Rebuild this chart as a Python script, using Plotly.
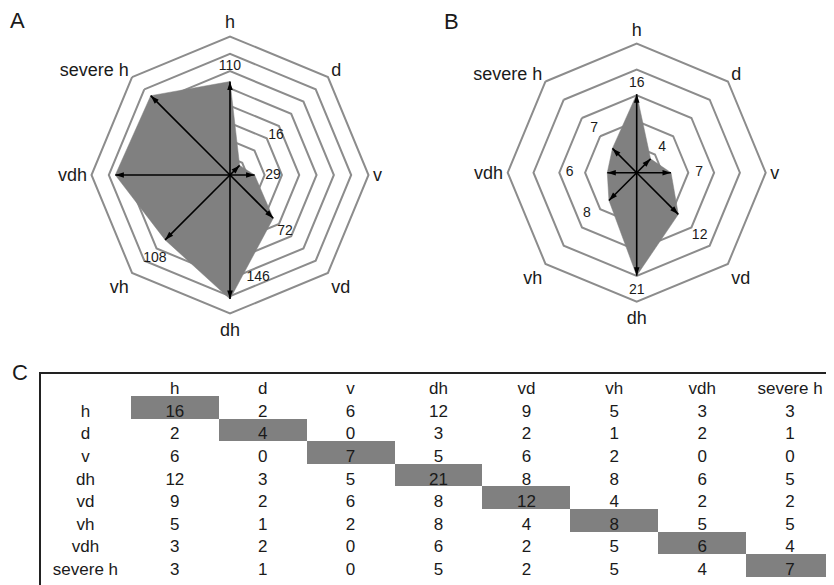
import plotly.graph_objects as go

# ---------------- data ----------------
CATS = ["h", "d", "v", "vd", "dh", "vh", "vdh", "severe h"]   # clockwise from top
A_VALUES = [110, 16, 29, 72, 146, 108, 135, 132]
B_VALUES = [16, 4, 7, 12, 21, 8, 6, 7]

TABLE_LABELS = ["h", "d", "v", "dh", "vd", "vh", "vdh", "severe h"]
TABLE_ROWS = [
    [16, 2, 6, 12, 9, 5, 3, 3],
    [2, 4, 0, 3, 2, 1, 2, 1],
    [6, 0, 7, 5, 6, 2, 0, 0],
    [12, 3, 5, 21, 8, 8, 6, 5],
    [9, 2, 6, 8, 12, 4, 2, 2],
    [5, 1, 2, 8, 4, 8, 5, 5],
    [3, 2, 0, 6, 2, 5, 6, 4],
    [3, 1, 0, 5, 2, 5, 4, 7],
]

# ---------------- style ----------------
PAGE_W, PAGE_H = 834, 585
OFF = 8                      # default body margin of the html page
W, H = PAGE_W - OFF, PAGE_H - OFF
A_RMAX, A_RINGS = 163.0, 8
B_RMAX, B_RINGS = 26.3, 5
GRID = "#8c8c8c"
FILL = "#808080"
TXT = "#1a1a1a"
FONT = "Liberation Sans, Arial, Helvetica, sans-serif"
TFONT = "Liberation Sans, Arial, sans-serif"

# value-label placement: (fraction of outer radius, angle in degrees clockwise from top)
A_LABEL_POS = [(0.78, 0), (0.44, 49), (0.31, 90), (0.567, 135.5),
               (0.765, 164.6), (0.81, 222), (1.13, 278.4), (1.155, 301.2)]
B_LABEL_POS = [(0.69, 0), (0.28, 45), (0.485, 90), (0.69, 135),
               (0.915, 180), (0.50, 230.4), (0.52, 270), (0.473, 315.8)]

ANGLES = [i * 360 / len(CATS) for i in range(len(CATS))]


def px(x):
    return (x - OFF) / W


def py(y):
    return 1 - (y - OFF) / H


def dom(cx, cy, r):
    return dict(x=[px(cx - r), px(cx + r)], y=[py(cy + r), py(cy - r)])


A_DOM = dom(230, 175, 138.5)
B_DOM = dom(636.7, 172.7, 129)

fig = go.Figure()


def add_radar(values, sub, lab_sub, label_pos, rmax):
    fig.add_trace(go.Scatterpolar(
        r=values + [values[0]], theta=CATS + [CATS[0]], mode="lines",
        fill="toself", fillcolor=FILL, line=dict(color=FILL, width=0.5),
        subplot=sub, hoverinfo="skip"))
    rr, tt = [], []
    for v, c in zip(values, CATS):
        rr += [0, v, None]
        tt += [c, c, None]
    fig.add_trace(go.Scatterpolar(
        r=rr, theta=tt, mode="lines", line=dict(color="black", width=1.6),
        subplot=sub, hoverinfo="skip"))
    fig.add_trace(go.Scatterpolar(
        r=values, theta=CATS, mode="markers",
        marker=dict(symbol="arrow", size=9, color="black", angle=ANGLES,
                    line=dict(width=0)),
        subplot=sub, hoverinfo="skip"))
    fig.add_trace(go.Scatterpolar(
        r=[f * rmax for f, a in label_pos], theta=[a for f, a in label_pos],
        mode="text", text=[str(v) for v in values],
        textfont=dict(family=FONT, size=14, color=TXT),
        cliponaxis=False, subplot=lab_sub, hoverinfo="skip"))


add_radar(A_VALUES, "polar", "polar3", A_LABEL_POS, A_RMAX)
add_radar(B_VALUES, "polar2", "polar4", B_LABEL_POS, B_RMAX)


def polar_layout(domain, rmax, rings):
    return dict(
        domain=domain, gridshape="linear", bgcolor="white",
        angularaxis=dict(type="category", categoryarray=CATS,
                         categoryorder="array", direction="clockwise",
                         rotation=90, showgrid=False, ticks="",
                         showline=True, linecolor=GRID, linewidth=2,
                         tickfont=dict(family=FONT, size=18, color=TXT)),
        radialaxis=dict(range=[0, rmax], showline=False, ticks="",
                        showticklabels=False, showgrid=True,
                        gridcolor=GRID, gridwidth=2,
                        tickvals=[rmax * k / rings for k in range(1, rings)]))


def overlay_layout(domain, rmax):
    return dict(
        domain=domain, bgcolor="rgba(0,0,0,0)",
        angularaxis=dict(visible=False, direction="clockwise", rotation=90),
        radialaxis=dict(visible=False, range=[0, rmax]))


# ---------------- table ----------------
n = len(TABLE_LABELS)
cols = [TABLE_LABELS] + [[TABLE_ROWS[r][c] for r in range(n)] for c in range(n)]
fills = [["white"] * n] + [[FILL if r == c else "white" for r in range(n)]
                           for c in range(n)]
TABLE_TOP = 373
TABLE_LEFT = 40
fig.add_trace(go.Table(
    domain=dict(x=[px(TABLE_LEFT), 1.0], y=[0, py(TABLE_TOP)]),
    columnwidth=[91] + [88] * n,
    header=dict(values=[""] + TABLE_LABELS, fill_color="white",
                line=dict(color="rgba(0,0,0,0)", width=1),
                align="center", height=23,
                font=dict(family=TFONT, size=17, color=TXT)),
    cells=dict(values=cols, fill_color=fills,
               line=dict(color="rgba(0,0,0,0)", width=1),
               align="center", height=22.6,
               font=dict(family=TFONT, size=17, color=TXT)),
))

x0 = px(TABLE_LEFT)
y1 = py(TABLE_TOP)
fig.add_shape(type="path", xref="paper", yref="paper",
              path=f"M {x0},-0.05 L {x0},{y1} L 1.05,{y1}",
              line=dict(color="#222222", width=2))

for txt, lx, ly in [("A", 17, 20), ("B", 452, 21), ("C", 20, 372)]:
    fig.add_annotation(text=txt, x=px(lx), y=py(ly), xref="paper",
                       yref="paper", showarrow=False,
                       xanchor="center", yanchor="middle",
                       font=dict(family=FONT, size=22, color=TXT))

fig.update_layout(
    width=W, height=H, margin=dict(l=0, r=0, t=0, b=0),
    paper_bgcolor="white", showlegend=False,
    polar=polar_layout(A_DOM, A_RMAX, A_RINGS),
    polar2=polar_layout(B_DOM, B_RMAX, B_RINGS),
    polar3=overlay_layout(A_DOM, A_RMAX),
    polar4=overlay_layout(B_DOM, B_RMAX),
)

fig.write_html("out.html")
